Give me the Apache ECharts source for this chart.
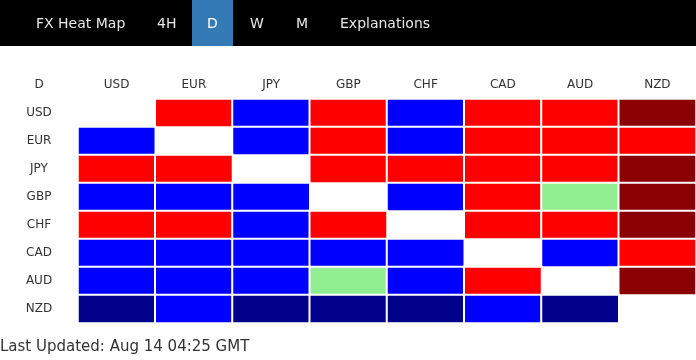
<!DOCTYPE html>
<html>
<head>
<meta charset="utf-8">
<script src="https://cdn.jsdelivr.net/npm/echarts@6/dist/echarts.min.js"></script>
<style>
html,body{margin:0;padding:0;background:#fff;}
#chart{width:696px;height:360px;}
</style>
</head>
<body>
<div id="chart"></div>
<script>
// ---- data ----
var currencies = ['USD', 'EUR', 'JPY', 'GBP', 'CHF', 'CAD', 'AUD', 'NZD'];
var cornerLabel = 'D';
var navTabs = ['FX Heat Map', '4H', 'D', 'W', 'M', 'Explanations'];
var activeTab = 'D';
var lastUpdated = 'Last Updated: Aug 14 04:25 GMT';
// strength codes: 2 strong up, 1 up, 0 flat, -1 down, -2 strong down, null = same pair
var rowUSD = [null, 1, -1, 1, -1, 1, 1, 2];
var rowEUR = [-1, null, -1, 1, -1, 1, 1, 1];
var rowJPY = [1, 1, null, 1, 1, 1, 1, 2];
var rowGBP = [-1, -1, -1, null, -1, 1, 0, 2];
var rowCHF = [1, 1, -1, 1, null, 1, 1, 2];
var rowCAD = [-1, -1, -1, -1, -1, null, -1, 1];
var rowAUD = [-1, -1, -1, 0, -1, 1, null, 2];
var rowNZD = [-2, -1, -2, -2, -2, -1, -2, null];

var rows = [rowUSD, rowEUR, rowJPY, rowGBP, rowCHF, rowCAD, rowAUD, rowNZD];
var cells = [];
rows.forEach(function (r, yi) {
  r.forEach(function (v, xi) {
    if (v !== null) cells.push([xi, yi, v]);
  });
});

var font = 'DejaVu Sans';
var tabX = [36, 157, 207, 250, 296, 340];
var graphics = [
  { type: 'rect', shape: { x: 0, y: 0, width: 696, height: 46 }, style: { fill: '#000' }, silent: true },
  { type: 'rect', shape: { x: 192, y: 0, width: 41, height: 46 }, style: { fill: '#337ab7' }, silent: true }
];
navTabs.forEach(function (t, i) {
  graphics.push({
    type: 'text', x: tabX[i], y: 24,
    style: { text: t, fill: t === activeTab ? '#fff' : '#e8e8e8', font: '14px "' + font + '"', textVerticalAlign: 'middle' }
  });
});
graphics.push({
  type: 'text', x: 39, y: 85,
  style: { text: cornerLabel, fill: '#333', font: '12px "' + font + '"', textAlign: 'center', textVerticalAlign: 'middle' }
});
graphics.push({
  type: 'text', x: 0, y: 347,
  style: { text: lastUpdated, fill: '#333', font: '15px "' + font + '"', textVerticalAlign: 'middle' }
});

var chart = echarts.init(document.getElementById('chart'), null, { renderer: 'canvas' });
chart.setOption({
  animation: false,
  textStyle: { fontFamily: font },
  grid: { left: 78, right: 0, top: 99, bottom: 37 },
  xAxis: {
    type: 'category', data: currencies, position: 'top',
    axisLine: { show: false }, axisTick: { show: false }, splitLine: { show: false },
    axisLabel: { color: '#333', fontSize: 12, fontFamily: font, margin: 14, verticalAlign: 'middle' }
  },
  yAxis: {
    type: 'category', data: currencies, inverse: true,
    axisLine: { show: false }, axisTick: { show: false }, splitLine: { show: false },
    axisLabel: { color: '#333', fontSize: 12, fontFamily: font, margin: 39, align: 'center' }
  },
  visualMap: {
    type: 'piecewise', show: false, dimension: 2,
    pieces: [
      { value: 2, color: '#8b0000' },
      { value: 1, color: '#ff0000' },
      { value: 0, color: '#90ee90' },
      { value: -1, color: '#0000ff' },
      { value: -2, color: '#00008b' }
    ]
  },
  series: [{
    type: 'heatmap', data: cells,
    itemStyle: { borderColor: '#fff', borderWidth: 2 },
    emphasis: { disabled: true }
  }],
  graphic: graphics
});
</script>
</body>
</html>
